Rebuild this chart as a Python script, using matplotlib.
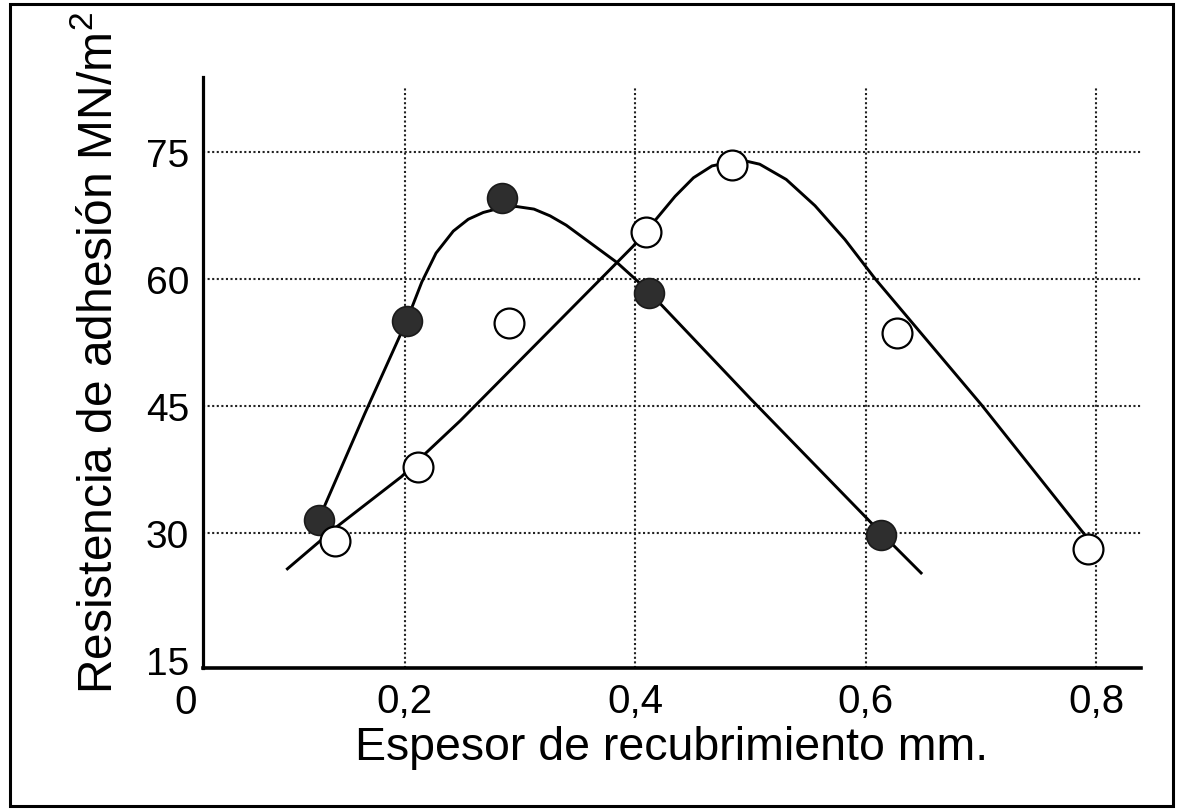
import matplotlib
matplotlib.use("Agg")
import matplotlib.pyplot as plt
from matplotlib.patches import Rectangle

plt.rcParams["font.family"] = ["Liberation Sans", "DejaVu Sans"]
plt.rcParams["mathtext.fontset"] = "custom"
plt.rcParams["mathtext.rm"] = "Liberation Sans"
plt.rcParams["mathtext.default"] = "regular"

# measured points (filled = dark circles, open = white circles)
thick_filled = [0.125, 0.2015, 0.284, 0.412, 0.613]
adh_filled = [31.5, 55.0, 69.5, 58.3, 29.7]
thick_open = [0.139, 0.2116, 0.290, 0.409, 0.484, 0.627, 0.793]
adh_open = [29.0, 37.7, 54.7, 65.5, 73.4, 53.6, 28.0]

# hand drawn fit curves
curve_filled_x = [0.125, 0.165, 0.2015, 0.2147, 0.227, 0.242, 0.255, 0.268, 0.282,
                  0.297, 0.312, 0.326, 0.340, 0.355, 0.384, 0.41, 0.5, 0.613, 0.649]
curve_filled_y = [31.5, 44.0, 55.0, 59.6, 63.0, 65.6, 67.0, 67.8, 68.3,
                  68.5, 68.2, 67.4, 66.3, 64.8, 61.9, 58.7, 45.8, 30.0, 25.1]
curve_open_x = [0.097, 0.141, 0.197, 0.2175, 0.248, 0.398, 0.418, 0.4345, 0.4505,
                0.4666, 0.492, 0.508, 0.531, 0.556, 0.582, 0.608, 0.701, 0.791]
curve_open_y = [25.6, 30.7, 36.6, 39.3, 43.2, 63.8, 67.0, 69.7, 71.9,
                73.3, 74.0, 73.5, 71.7, 68.6, 64.6, 60.0, 45.0, 29.6]

x_ticks = [0.2, 0.4, 0.6, 0.8]
x_ticklabels = ["0,2", "0,4", "0,6", "0,8"]
y_ticks = [15, 30, 45, 60, 75]
y_grid = [30, 45, 60, 75]

fig = plt.figure(figsize=(11.78, 8.12), dpi=100)
ax = fig.add_axes([203 / 1178, (812 - 669) / 812, (1141 - 203) / 1178, (669 - 78) / 812])

ax.set_xlim(0.0247, 0.839)
ax.set_ylim(14.0, 83.8)

for g in x_ticks:
    ax.axvline(g, ymax=0.985, color="#222222", lw=1.5, ls=(0, (1, 1.2)), zorder=1)
for g in y_grid:
    ax.axhline(g, color="#222222", lw=1.5, ls=(0, (1, 1.2)), zorder=1)

ax.plot(curve_filled_x, curve_filled_y, color="black", lw=2.1, zorder=2,
        solid_capstyle="butt", solid_joinstyle="round")
ax.plot(curve_open_x, curve_open_y, color="black", lw=2.1, zorder=2,
        solid_capstyle="butt", solid_joinstyle="round")

ax.plot(thick_filled, adh_filled, ls="none", marker="o", ms=21.5,
        mfc="#2e2e2e", mec="#1a1a1a", mew=1.2, zorder=3)
ax.plot(thick_open, adh_open, ls="none", marker="o", ms=21.5,
        mfc="white", mec="black", mew=1.6, zorder=4)

for side in ["top", "right"]:
    ax.spines[side].set_visible(False)
ax.spines["left"].set_linewidth(2.3)
ax.spines["bottom"].set_linewidth(2.6)

ax.set_xticks(x_ticks)
ax.set_xticklabels(x_ticklabels)
ax.set_yticks(y_ticks)
ax.tick_params(axis="both", length=0)
ax.tick_params(axis="x", pad=10, labelsize=29)
ax.tick_params(axis="y", pad=10, labelsize=28)

ax.text(0.01, -0.026, "0", transform=ax.get_xaxis_transform(), ha="center",
        va="top", fontsize=29)

ax.set_xlabel("Espesor de recubrimiento mm.", fontsize=33.5, labelpad=4)
ax.set_ylabel("Resistencia de adhesión MN/m$^{2}$", fontsize=34.5)
ax.yaxis.set_label_coords(-0.086, 0.535)

fig.add_artist(Rectangle((10 / 1178, 5 / 812), 1163 / 1178, 802 / 812,
                         transform=fig.transFigure, fill=False, lw=2.2,
                         ec="black"))

fig.savefig("out.png", dpi=100, facecolor="white")
